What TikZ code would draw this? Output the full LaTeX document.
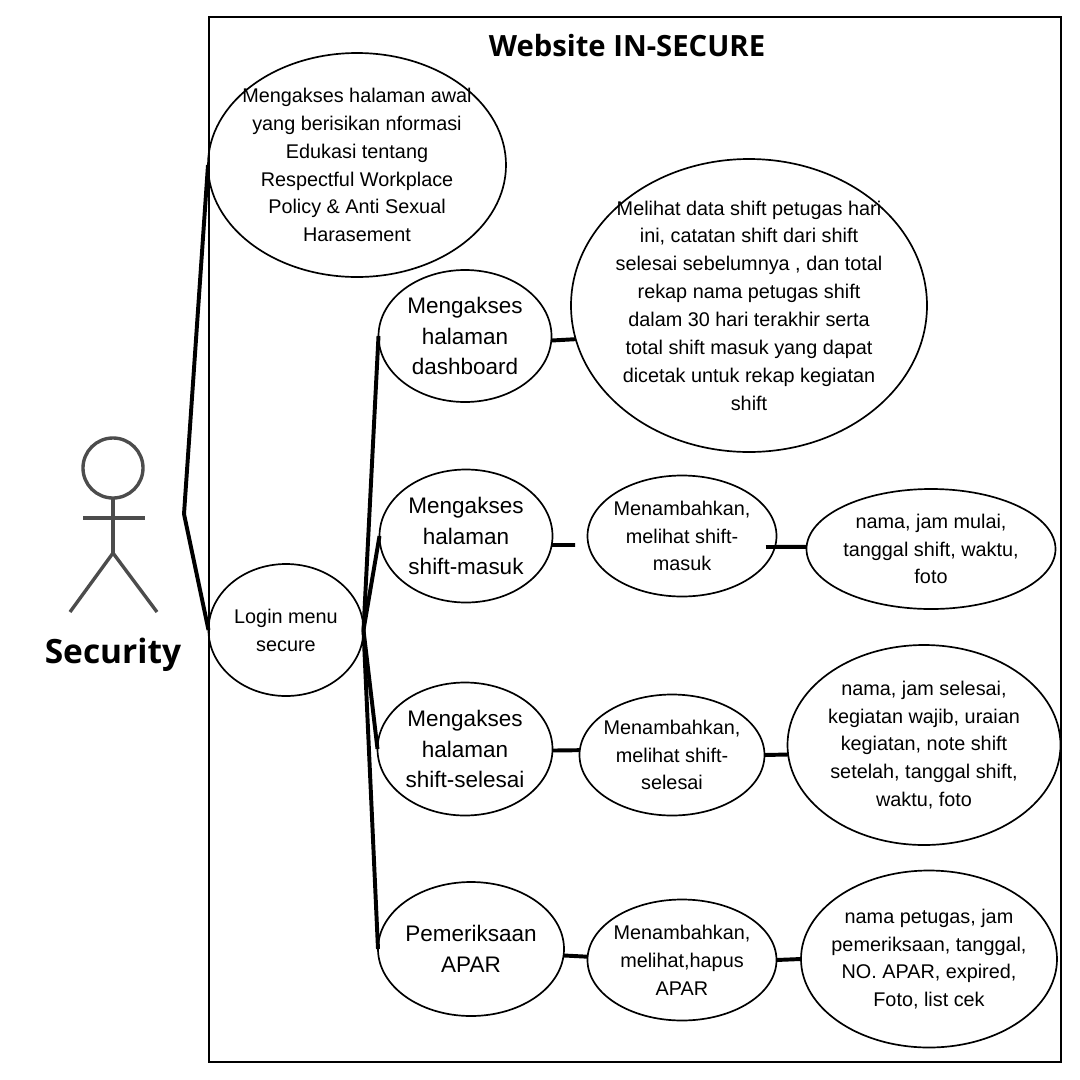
\documentclass[tikz,border=0pt]{standalone}
\usepackage{fontspec}
\usepackage{tikz}
\usetikzlibrary{shapes.geometric}
\setmainfont{Liberation Sans}
\newfontfamily\headfont{Open Sans}

\tikzset{
  usecase/.style n args={2}{draw, ellipse, line width=1.2pt, inner sep=-60pt, outer sep=0pt, align=center, minimum width=#1*0.025cm, minimum height=#2*0.025cm, font=\fontsize{14.1}{19.8}\selectfont},
  bigcase/.style n args={2}{usecase={#1}{#2}, font=\fontsize{16}{22}\selectfont},
  link/.style={line width=2.8pt},
  actorline/.style={line width=2.4pt, draw=black!70}
}

\begin{document}
\begin{tikzpicture}[x=0.025cm, y=-0.025cm]
\useasboundingbox (0,0) rectangle (1080,1080);

% System boundary
\draw[line width=1.4pt] (209,17) rectangle (1061,1062);
\node[font=\headfont\fontsize{20.8}{24}\selectfont\bfseries] (title) at (627,46) {Website IN-SECURE};

% Actor
\node[circle, actorline, minimum size=1.5cm, inner sep=0pt, outer sep=0pt] (head) at (113,468) {};
\coordinate (hip) at (113,553);
\coordinate (armleft) at (83,518);
\coordinate (armright) at (145,518);
\coordinate (footleft) at (70,612);
\coordinate (footright) at (157,612);
\draw[actorline] (head.south) -- (hip);
\draw[actorline] (armleft) -- (armright);
\draw[actorline] (footleft) -- (hip) -- (footright);
\node[font=\headfont\fontsize{23.8}{28}\selectfont\bfseries] (security) at (113,655) {Security};

% First level
\node[usecase={298}{224}] (awal) at (357,165) {Mengakses halaman awal\\yang berisikan nformasi\\Edukasi tentang\\Respectful Workplace\\Policy \& Anti Sexual\\Harasement};
\node[usecase={155}{132}] (login) at (286,630) {Login menu\\secure};

% Second level
\node[bigcase={173}{132}] (dashboard) at (465,336) {Mengakses\\halaman\\dashboard};
\node[bigcase={173}{133}] (masuk) at (466,536) {Mengakses\\halaman\\shift-masuk};
\node[bigcase={175}{133}] (selesai) at (465,749) {Mengakses\\halaman\\shift-selesai};
\node[bigcase={186}{134}] (apar) at (471,949) {Pemeriksaan\\APAR};

% Third level
\node[usecase={356}{293}] (melihat) at (749,305.5) {Melihat data shift petugas hari\\ini, catatan shift dari shift\\selesai sebelumnya , dan total\\rekap nama petugas shift\\dalam 30 hari terakhir serta\\total shift masuk yang dapat\\dicetak untuk rekap kegiatan\\shift};
\node[usecase={189}{121}] (tmasuk) at (682,536) {Menambahkan,\\melihat shift-\\masuk};
\node[usecase={185}{121}] (tselesai) at (672,755) {Menambahkan,\\melihat shift-\\selesai};
\node[usecase={189}{121}] (tapar) at (682,960) {Menambahkan,\\melihat,hapus\\APAR};

% Form fields
\node[usecase={249}{120}] (fmasuk) at (931,549) {nama, jam mulai,\\tanggal shift, waktu,\\foto};
\node[usecase={273}{200}] (fselesai) at (924,745) {nama, jam selesai,\\kegiatan wajib, uraian\\kegiatan, note shift\\setelah, tanggal shift,\\waktu, foto};
\node[usecase={256}{177}] (fapar) at (929,959) {nama petugas, jam\\pemeriksaan, tanggal,\\NO. APAR, expired,\\Foto, list cek};

% Actor links
\coordinate (bend) at (184,514);
\draw[link] (awal.west) -- (bend) -- (login.west);

% Login links
\draw[link] (login.east) -- (dashboard.west);
\draw[link] (login.east) -- (masuk.west);
\draw[link] (login.east) -- (selesai.west);
\draw[link] (login.east) -- (apar.west);

% Short links
\coordinate (masukend) at (575,545);
\coordinate (tmasukstart) at (766,547);
\draw[link] (dashboard.-3) -- (melihat.191.9);
\draw[link] (masuk.-6) -- (masukend);
\draw[link] (tmasukstart) -- (fmasuk.179);
\draw[link] (selesai.-1) -- (tselesai.177);
\draw[link] (tselesai.east) -- (fselesai.184.8);
\draw[link] (apar.-4.3) -- (tapar.178);
\draw[link] (tapar.east) -- (fapar.180.8);

\end{tikzpicture}
\end{document}
